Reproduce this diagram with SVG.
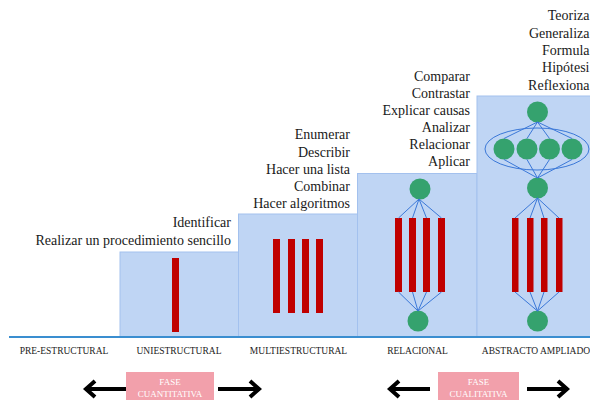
<svg xmlns="http://www.w3.org/2000/svg" width="590" height="400" viewBox="0 0 590 400">
<defs>
<style>
.box{fill:#bfd5f4;stroke:#a3c1ee;stroke-width:1}
.bar{fill:#c00000}
.dot{fill:#35a26e}
.ln{stroke:#3b78d8;stroke-width:1;fill:none}
.t{font-family:"Liberation Serif","Times New Roman",serif;font-size:14px;fill:#1a1a1a;text-anchor:end}
.lab{font-family:"Liberation Serif","Times New Roman",serif;font-size:9.5px;fill:#222;text-anchor:middle}
.ph{fill:#f2a0ab}
.pt{font-family:"Liberation Serif","Times New Roman",serif;font-size:9px;fill:#ffffff;text-anchor:middle}
.arr{stroke:#000;stroke-width:4;fill:none;stroke-linecap:butt;stroke-linejoin:miter}
</style>
</defs>
<rect width="590" height="400" fill="#ffffff"/>

<g id="uniestructural">
<rect class="box" x="120" y="252" width="118.5" height="85"/>
<rect class="bar" x="172" y="258" width="7" height="74"/>
<text class="t" x="231" y="227">Identificar</text>
<text class="t" x="231" y="245">Realizar un procedimiento sencillo</text>
</g>

<g id="multiestructural">
<rect class="box" x="238.5" y="214" width="119" height="123"/>
<rect class="bar" x="273" y="239" width="7" height="74"/>
<rect class="bar" x="288" y="239" width="7" height="74"/>
<rect class="bar" x="302" y="239" width="7" height="74"/>
<rect class="bar" x="316" y="239" width="7" height="74"/>
<text class="t" x="350" y="139">Enumerar</text>
<text class="t" x="350" y="157">Describir</text>
<text class="t" x="350" y="174">Hacer una lista</text>
<text class="t" x="350" y="191">Combinar</text>
<text class="t" x="350" y="208">Hacer algoritmos</text>
</g>

<g id="relacional">
<rect class="box" x="357.5" y="173.5" width="119.5" height="163.5"/>
<rect class="bar" x="395" y="218" width="7" height="74"/>
<rect class="bar" x="409" y="218" width="7" height="74"/>
<rect class="bar" x="423" y="218" width="7" height="74"/>
<rect class="bar" x="438" y="218" width="7" height="74"/>
<circle class="dot" cx="420" cy="189" r="10.5"/>
<circle class="dot" cx="418" cy="321" r="10.5"/>
<text class="t" x="470" y="81">Comparar</text>
<text class="t" x="470" y="98">Contrastar</text>
<text class="t" x="470" y="115">Explicar causas</text>
<text class="t" x="470" y="132">Analizar</text>
<text class="t" x="470" y="149">Relacionar</text>
<text class="t" x="470" y="166">Aplicar</text>
</g>

<g id="abstracto-ampliado">
<rect class="box" x="477" y="96" width="120" height="241"/>
<ellipse class="ln" cx="537" cy="149" rx="52" ry="21"/>
<circle class="dot" cx="537.5" cy="112" r="10.5"/>
<circle class="dot" cx="504" cy="149" r="10.5"/>
<circle class="dot" cx="527" cy="149" r="10.5"/>
<circle class="dot" cx="549.5" cy="149" r="10.5"/>
<circle class="dot" cx="572" cy="149" r="10.5"/>
<circle class="dot" cx="537.5" cy="188" r="10.5"/>
<rect class="bar" x="512" y="218" width="6.5" height="74"/>
<rect class="bar" x="527" y="218" width="6.5" height="74"/>
<rect class="bar" x="541" y="218" width="6.5" height="74"/>
<rect class="bar" x="556" y="218" width="6.5" height="74"/>
<circle class="dot" cx="537.5" cy="321" r="10.5"/>
<text class="t" x="589.5" y="20">Teoriza</text>
<text class="t" x="589.5" y="38">Generaliza</text>
<text class="t" x="589.5" y="55">Formula</text>
<text class="t" x="589.5" y="72">Hipótesi</text>
<text class="t" x="589.5" y="90">Reflexiona</text>
</g>

<g id="connectors">
<line x1="9" y1="337" x2="590" y2="337" stroke="#3a8ed0" stroke-width="2"/>
<path class="ln" d="M419 199 L398.5 218 M419 199 L412.5 218 M419 199 L426.5 218 M419 199 L441.5 218"/>
<path class="ln" d="M398.5 292 L418 311 M412.5 292 L418 311 M426.5 292 L418 311 M441.5 292 L418 311"/>
<path class="ln" d="M537.5 122 L504 138.5 M537.5 122 L527 138.5 M537.5 122 L549.5 138.5 M537.5 122 L572 138.5"/>
<path class="ln" d="M504 159.5 L537.5 178 M527 159.5 L537.5 178 M549.5 159.5 L537.5 178 M572 159.5 L537.5 178"/>
<path class="ln" d="M537.5 198 L515 218 M537.5 198 L530 218 M537.5 198 L544 218 M537.5 198 L559 218"/>
<path class="ln" d="M515 292 L537.5 311 M530 292 L537.5 311 M544 292 L537.5 311 M559 292 L537.5 311"/>
<path class="arr" d="M126 389 H86 M95 381 L86 389 L95 397"/>
<path class="arr" d="M218 389 H259 M250 381 L259 389 L250 397"/>
<path class="arr" d="M430 389 H390 M399 381 L390 389 L399 397"/>
<path class="arr" d="M527 389 H567 M558 381 L567 389 L558 397"/>
</g>

<g id="labels">
<text class="lab" x="64" y="354">PRE-ESTRUCTURAL</text>
<text class="lab" x="179" y="354">UNIESTRUCTURAL</text>
<text class="lab" x="298.5" y="354">MULTIESTRUCTURAL</text>
<text class="lab" x="417.5" y="354">RELACIONAL</text>
<text class="lab" x="536" y="354">ABSTRACTO AMPLIADO</text>
</g>

<g id="fase-cuantitativa">
<rect class="ph" x="126" y="372" width="88" height="28"/>
<text class="pt" x="170" y="385">FASE</text>
<text class="pt" x="170" y="397">CUANTITATIVA</text>
</g>

<g id="fase-cualitativa">
<rect class="ph" x="438" y="372" width="81" height="28"/>
<text class="pt" x="478.5" y="385">FASE</text>
<text class="pt" x="478.5" y="397">CUALITATIVA</text>
</g>
</svg>
